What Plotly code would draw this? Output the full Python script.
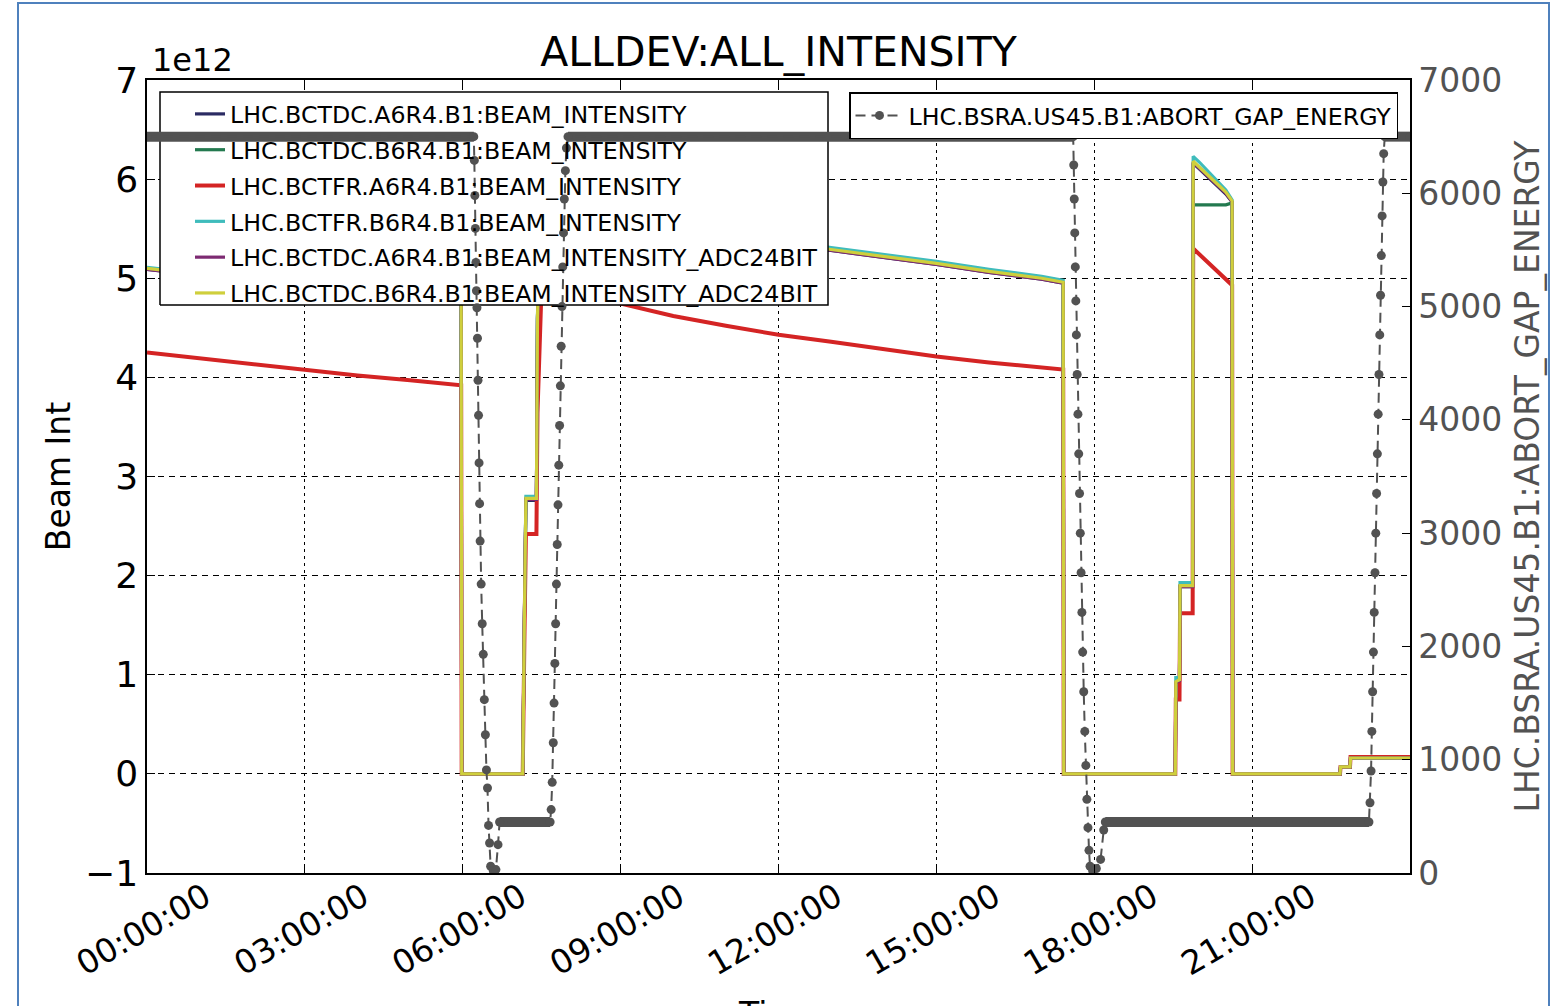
import datetime as dt
import plotly.graph_objects as go

# ---------------- data ----------------
DAY = dt.datetime(2016, 5, 20)

# intensity samples, hours since 00:00 (shared by the six BCT signals)
t_int_h = [0.00, 1.00, 2.00, 3.00, 4.00, 5.00, 5.97, 5.98, 7.14, 7.17, 7.20, 7.31, 7.40, 7.42, 7.46, 7.50,
           8.00, 9.00, 10.00, 11.00, 12.00, 13.00, 14.00, 15.00, 16.00, 17.00, 17.41, 17.42,
           19.54, 19.55, 19.62, 19.63, 19.87, 19.88, 20.00, 20.20, 20.40, 20.50, 20.62, 20.63,
           22.67, 22.68, 22.86, 22.87, 24.00]

# beam intensity, units of 1e12
bctdc_a6r4 = [5.09, 5.03, 4.97, 4.91, 4.85, 4.80, 4.75, 0.00, 0.00, 1.48, 2.76, 2.76, 2.76, 4.58, 5.58, 5.90,
              5.85, 5.70, 5.57, 5.46, 5.36, 5.28, 5.21, 5.14, 5.06, 4.99, 4.95, 0.00,
              0.00, 0.92, 0.94, 1.89, 1.89, 6.16, 6.10, 6.00, 5.90, 5.85, 5.77, 0.00,
              0.00, 0.07, 0.07, 0.16, 0.16]
bctdc_b6r4 = [5.10, 5.04, 4.98, 4.92, 4.86, 4.81, 4.76, 0.00, 0.00, 1.50, 2.78, 2.78, 2.78, 4.60, 5.60, 5.92,
              5.86, 5.71, 5.58, 5.47, 5.37, 5.29, 5.22, 5.15, 5.07, 5.00, 4.96, 0.00,
              0.00, 0.93, 0.95, 1.90, 1.90, 5.74, 5.74, 5.74, 5.74, 5.74, 5.76, 0.00,
              0.00, 0.07, 0.07, 0.16, 0.16]
bctfr_a6r4 = [4.25, 4.19, 4.13, 4.07, 4.02, 3.97, 3.92, 0.00, 0.00, 1.30, 2.42, 2.42, 2.42, 3.64, 4.40, 4.95,
              4.87, 4.75, 4.62, 4.52, 4.43, 4.36, 4.28, 4.21, 4.15, 4.10, 4.08, 0.00,
              0.00, 0.75, 0.75, 1.62, 1.62, 5.30, 5.24, 5.14, 5.04, 4.99, 4.93, 0.00,
              0.00, 0.07, 0.07, 0.17, 0.17]
bctfr_b6r4 = [5.11, 5.05, 4.99, 4.93, 4.87, 4.82, 4.77, 0.00, 0.00, 1.52, 2.80, 2.80, 2.80, 4.62, 5.62, 5.94,
              5.88, 5.73, 5.60, 5.49, 5.39, 5.31, 5.24, 5.17, 5.09, 5.02, 4.98, 0.00,
              0.00, 0.97, 0.97, 1.93, 1.93, 6.23, 6.17, 6.06, 5.95, 5.89, 5.79, 0.00,
              0.00, 0.07, 0.07, 0.16, 0.16]
bctdc_a6r4_adc24 = [5.09, 5.03, 4.97, 4.91, 4.85, 4.80, 4.75, 0.00, 0.00, 1.49, 2.77, 2.77, 2.77, 4.59, 5.59, 5.91,
                    5.85, 5.70, 5.57, 5.46, 5.36, 5.28, 5.21, 5.14, 5.06, 4.99, 4.95, 0.00,
                    0.00, 0.92, 0.94, 1.89, 1.89, 6.17, 6.11, 6.01, 5.91, 5.86, 5.77, 0.00,
                    0.00, 0.07, 0.07, 0.16, 0.16]
bctdc_b6r4_adc24 = [5.10, 5.04, 4.98, 4.92, 4.86, 4.81, 4.76, 0.00, 0.00, 1.50, 2.78, 2.78, 2.78, 4.60, 5.60, 5.92,
                    5.86, 5.71, 5.58, 5.47, 5.37, 5.29, 5.22, 5.15, 5.07, 5.00, 4.96, 0.00,
                    0.00, 0.93, 0.95, 1.90, 1.90, 6.18, 6.12, 6.02, 5.92, 5.87, 5.78, 0.00,
                    0.00, 0.07, 0.07, 0.16, 0.16]

int_names = ["LHC.BCTDC.A6R4.B1:BEAM_INTENSITY",
             "LHC.BCTDC.B6R4.B1:BEAM_INTENSITY",
             "LHC.BCTFR.A6R4.B1:BEAM_INTENSITY",
             "LHC.BCTFR.B6R4.B1:BEAM_INTENSITY",
             "LHC.BCTDC.A6R4.B1:BEAM_INTENSITY_ADC24BIT",
             "LHC.BCTDC.B6R4.B1:BEAM_INTENSITY_ADC24BIT"]
int_colors = ["#2b2b63", "#23794f", "#d42424", "#3fbcbc", "#7d2a72", "#cfcf3c"]

# abort gap energy samples (hours since 00:00, GeV)
age_t_h = [0.00,
           6.21, 6.22, 6.23, 6.24, 6.25, 6.26, 6.27, 6.28, 6.29, 6.30, 6.31, 6.32, 6.33, 6.35, 6.37,
           6.39, 6.41, 6.43, 6.45, 6.47, 6.49, 6.51, 6.53, 6.58, 6.63, 6.67, 6.70,
           7.66, 7.68, 7.70, 7.72, 7.735, 7.75, 7.765, 7.78, 7.795, 7.81, 7.825, 7.84, 7.855, 7.87,
           7.885, 7.90, 7.915, 7.93, 7.95, 7.97, 8.00,
           17.60, 17.61, 17.62, 17.63, 17.64, 17.65, 17.66, 17.675, 17.69, 17.705, 17.72, 17.735,
           17.75, 17.765, 17.78, 17.80, 17.82, 17.84, 17.86, 17.88, 17.90, 17.92, 17.97, 18.04,
           18.12, 18.18, 18.21,
           23.22, 23.24, 23.26, 23.275, 23.29, 23.305, 23.32, 23.335, 23.35, 23.365, 23.38, 23.395,
           23.41, 23.425, 23.44, 23.455, 23.47, 23.485, 23.50, 23.52,
           24.00]
age_gev = [6500,
           6500, 6290, 5980, 5690, 5390, 5140, 4990, 4720, 4350, 4040, 3620, 3260, 2930, 2550, 2200,
           1930, 1530, 1220, 910, 750, 420, 265, 60, 20, 30, 250, 450,
           450, 560, 800, 1150, 1500, 1850, 2200, 2550, 2900, 3250, 3600, 3950, 4300, 4650,
           5000, 5350, 5650, 5950, 6200, 6400, 6500,
           6500, 6250, 5950, 5650, 5350, 5050, 4750, 4400, 4050, 3700, 3350, 3000,
           2650, 2300, 1950, 1600, 1250, 950, 650, 400, 200, 60, 20, 40,
           120, 380, 450,
           450, 620, 900, 1250, 1600, 1950, 2300, 2650, 3000, 3350, 3700, 4050,
           4400, 4750, 5100, 5450, 5800, 6100, 6350, 6500,
           6500]
age_name = "LHC.BSRA.US45.B1:ABORT_GAP_ENERGY"

# densely logged plateaus (drawn as a solid band of overlapping markers)
plateau_start_h = [0.00, 6.70, 8.00, 18.21, 23.52]
plateau_end_h = [6.21, 7.66, 17.60, 23.22, 24.00]
plateau_gev = [6500, 450, 6500, 450, 6500]

x_tick_h = [0, 3, 6, 9, 12, 15, 18, 21]
left_ticks = [-1, 0, 1, 2, 3, 4, 5, 6, 7]
right_ticks = [0, 1000, 2000, 3000, 4000, 5000, 6000, 7000]

# ---------------- layout geometry ----------------
W, H = 1553, 1006
ML, MR, MT, MB = 147, 143, 80, 133
PW, PH = W - ML - MR, H - MT - MB
FONT = "DejaVu Sans"
GRAY = "#525252"


def to_dt(hours):
    return [None if h is None else DAY + dt.timedelta(hours=h) for h in hours]


def px_to_hours(px):
    return (px - ML) / PW * 24.0


def py_to_left(py):
    return 7.0 - (py - MT) / PH * 8.0


def px_paper(px):
    return (px - ML) / PW


def py_paper(py):
    return (H - MB - py) / PH


fig = go.Figure()

series = [bctdc_a6r4, bctdc_b6r4, bctfr_a6r4, bctfr_b6r4, bctdc_a6r4_adc24, bctdc_b6r4_adc24]
for name, col, vals in zip(int_names, int_colors, series):
    fig.add_trace(go.Scatter(
        x=to_dt(t_int_h), y=vals, name=name, mode="lines",
        line=dict(color=col, width=4 if "BCTFR.A6R4" in name else 3.2),
        legend="legend", legendgroup=name, hoverinfo="skip"))

# legend-1 background box: hides the intensity curves but sits below the right-axis curve
bx0, bx1 = px_to_hours(160), px_to_hours(828)
by0, by1 = py_to_left(305), py_to_left(92)
fig.add_trace(go.Scatter(
    x=to_dt([bx0, bx1, bx1, bx0, bx0]), y=[by0, by0, by1, by1, by0],
    mode="lines", fill="toself", fillcolor="white",
    line=dict(color="black", width=1.5), showlegend=False, hoverinfo="skip"))

# plateau band
band_x, band_y = [], []
for s, e, v in zip(plateau_start_h, plateau_end_h, plateau_gev):
    band_x += [s, e, None]
    band_y += [v, v, None]
fig.add_trace(go.Scatter(
    x=to_dt(band_x), y=band_y, yaxis="y2", mode="lines",
    line=dict(color=GRAY, width=10), showlegend=False, hoverinfo="skip"))

fig.add_trace(go.Scatter(
    x=to_dt(age_t_h), y=age_gev, yaxis="y2", name=age_name, mode="lines+markers",
    line=dict(color=GRAY, width=2, dash="10px,6px"),
    marker=dict(color=GRAY, size=9), legend="legend2", hoverinfo="skip"))

fig.update_layout(
    width=W, height=H,
    margin=dict(l=ML, r=MR, t=MT, b=MB, autoexpand=False),
    paper_bgcolor="white", plot_bgcolor="white",
    font=dict(family=FONT, color="black"),
    title=dict(text="ALLDEV:ALL_INTENSITY", x=(ML + PW / 2) / W, xanchor="center",
               y=1 - 52 / H, yanchor="middle", font=dict(size=41, color="black")),
    xaxis=dict(
        type="date", range=[DAY, DAY + dt.timedelta(hours=24)],
        tickvals=to_dt(x_tick_h), tickformat="%H:%M:%S", tickangle=-30,
        tickfont=dict(size=33), ticks="inside", ticklen=8, tickcolor="black",
        ticklabelshift=58, ticklabelstandoff=-10,
        showline=True, linecolor="black", linewidth=1.5, mirror="ticks",
        showgrid=True, gridcolor="black", gridwidth=1, griddash="3px,4px",
        zeroline=False),
    yaxis=dict(
        range=[-1, 7], tickvals=left_ticks, tickfont=dict(size=36),
        ticks="inside", ticklen=8, tickcolor="black",
        showline=True, linecolor="black", linewidth=1.5, mirror=True,
        showgrid=True, gridcolor="black", gridwidth=1, griddash="6px,5px",
        zeroline=False,
        title=dict(text="Beam Int", font=dict(size=33), standoff=4)),
    yaxis2=dict(
        overlaying="y", side="right", range=[0, 7000], tickvals=right_ticks, tickformat="d",
        tickfont=dict(size=33, color=GRAY), ticks="inside", ticklen=8, tickcolor="black",
        showline=True, linecolor="black", linewidth=1.5, showgrid=False, zeroline=False,
        title=dict(text=age_name, font=dict(size=33, color=GRAY))),
    legend=dict(
        x=px_paper(190), xanchor="left", y=py_paper(92), yanchor="top",
        bgcolor="rgba(0,0,0,0)", borderwidth=0, font=dict(size=23.7),
        traceorder="grouped", tracegroupgap=2),
    legend2=dict(
        x=px_paper(1398), xanchor="right", y=py_paper(92), yanchor="top",
        bgcolor="white", bordercolor="black", borderwidth=1.5, font=dict(size=23.7),
        itemwidth=48),
    annotations=[
        dict(text="1e12", xref="paper", yref="paper", x=px_paper(150), y=py_paper(60),
             xanchor="left", yanchor="middle", showarrow=False, font=dict(size=32)),
        dict(text="Time", xref="paper", yref="paper", x=0.5, y=py_paper(993),
             xanchor="center", yanchor="top", showarrow=False, font=dict(size=33)),
    ],
    shapes=[
        dict(type="rect", xref="paper", yref="paper",
             x0=px_paper(18), x1=px_paper(1549), y0=py_paper(1015), y1=py_paper(3),
             line=dict(color="#4f81bd", width=2), fillcolor="rgba(0,0,0,0)", layer="above"),
    ],
)

fig.write_html("out.html", config={"displayModeBar": False},
               post_script="document.body.style.margin='0';document.body.style.overflow='hidden';")
